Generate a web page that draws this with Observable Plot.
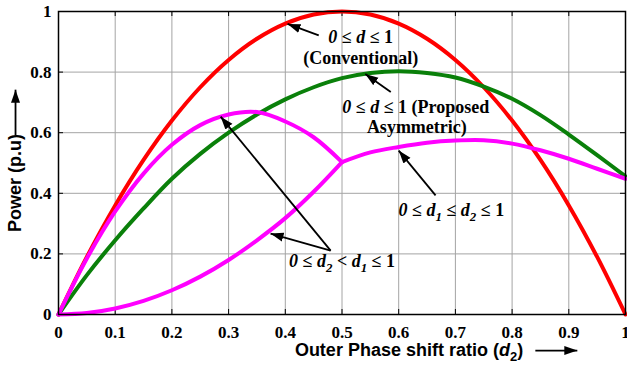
<!DOCTYPE html>
<html><head><meta charset="utf-8">
<script src="https://cdn.jsdelivr.net/npm/d3@7"></script>
<script src="https://cdn.jsdelivr.net/npm/@observablehq/plot@0.6"></script>
<style>body{margin:0;background:#fff}</style>
</head><body><div id="chart"></div>
<script>
// ---- data ----
const dFull = [0,0.05,0.1,0.15,0.2,0.25,0.3,0.35,0.4,0.45,0.5,0.55,0.6,0.65,0.7,0.75,0.8,0.85,0.9,0.95,1];
const pConventional = [0,0.19,0.36,0.51,0.64,0.75,0.84,0.91,0.96,0.99,1,0.99,0.96,0.91,0.84,0.75,0.64,0.51,0.36,0.19,0];
const pProposed = [0,0.13,0.245,0.35,0.448,0.53,0.60,0.66,0.71,0.75,0.78,0.797,0.803,0.797,0.782,0.752,0.712,0.658,0.594,0.526,0.456];
const dLeft = [0,0.05,0.1,0.15,0.2,0.25,0.3,0.35,0.4,0.45,0.5];
const pD2ltD1Upper = [0,0.185,0.34,0.465,0.56,0.625,0.66,0.668,0.637,0.585,0.503];
const pD2ltD1Lower = [0,0.005,0.02,0.045,0.08,0.125,0.18,0.245,0.318,0.405,0.503];
const dRight = [0.5,0.55,0.6,0.65,0.7,0.75,0.8,0.85,0.9,0.95,1];
const pD1leD2 = [0.503,0.535,0.553,0.567,0.574,0.575,0.564,0.542,0.514,0.481,0.448];

const xTicks = [0,0.1,0.2,0.3,0.4,0.5,0.6,0.7,0.8,0.9,1];
const xTickLabels = ["0","0.1","0.2","0.3","0.4","0.5","0.6","0.7","0.8","0.9","1"];
const yTicks = [0,0.2,0.4,0.6,0.8,1];
const yTickLabels = ["0","0.2","0.4","0.6","0.8","1"];

const xLabel = "Outer Phase shift ratio (d2)";
const yLabel = "Power (p.u)";

const noteText = ["0 ≤ d ≤ 1", "(Conventional)", "0 ≤ d ≤ 1 (Proposed", "Asymmetric)", "0 ≤ d1 ≤ d2 ≤ 1", "0 ≤ d2 < d1 ≤ 1"];
const noteX = [0.533, 0.533, 0.63, 0.632, 0.693, 0.5];
const noteY = [0.914, 0.845, 0.683, 0.617, 0.343, 0.175];
// pointer arrows (tail -> head), the last two are the axis-label arrows
const arrowX1 = [0.459, 0.586, 0.665, 0.48, 0.48, 0.841, -0.0758];
const arrowY1 = [0.921, 0.734, 0.393, 0.211, 0.211, -0.119, 0.591];
const arrowX2 = [0.404, 0.541, 0.600, 0.286, 0.374, 0.915, -0.0758];
const arrowY2 = [0.959, 0.794, 0.541, 0.653, 0.267, -0.119, 0.742];

// ---- tables ----
const toRows = (xs, ys, s) => xs.map((x, i) => ({x, y: ys[i], s}));
const red = toRows(dFull, pConventional, "conv");
const green = toRows(dFull, pProposed, "prop");
const magenta = [
  ...toRows(dLeft, pD2ltD1Upper, "upper"),
  ...toRows(dLeft, pD2ltD1Lower, "lower"),
  ...toRows(dRight, pD1leD2, "right")
];
const notes = noteText.map((t, i) => ({t, x: noteX[i], y: noteY[i]}));
const arrows = arrowX1.map((x1, i) => ({x1, y1: arrowY1[i], x2: arrowX2[i], y2: arrowY2[i]}));

const serif = "Liberation Serif, Times New Roman, serif";
const sans = "Liberation Sans, Arial, sans-serif";

const plot = Plot.plot({
  width: 627, height: 365,
  marginLeft: 58, marginRight: 2, marginTop: 11, marginBottom: 51,
  x: {domain: [0, 1]},
  y: {domain: [0, 1]},
  style: {fontFamily: serif, fontSize: "17px", fontWeight: "bold", background: "white", color: "black", overflow: "visible"},
  marks: [
    Plot.gridX(xTicks, {stroke: "#a4a4a4", strokeOpacity: 1, strokeWidth: 1}),
    Plot.gridY(yTicks, {stroke: "#a4a4a4", strokeOpacity: 1, strokeWidth: 1}),
    Plot.tickX(xTicks, {x: d => d, insetTop: 298, stroke: "black"}),
    Plot.tickX(xTicks, {x: d => d, insetBottom: 298, stroke: "black"}),
    Plot.tickY(yTicks, {y: d => d, insetLeft: 562, stroke: "black"}),
    Plot.tickY(yTicks, {y: d => d, insetRight: 562, stroke: "black"}),
    Plot.axisX({ticks: xTicks, tickSize: 0, tickPadding: 11, tickFormat: (d, i) => xTickLabels[i], label: null, fontSize: 17, fontFamily: serif, fontWeight: "bold"}),
    Plot.axisY({ticks: yTicks, tickSize: 0, tickPadding: 7, tickFormat: (d, i) => yTickLabels[i], label: null, fontSize: 17, fontFamily: serif, fontWeight: "bold"}),
    Plot.line(red, {x: "x", y: "y", z: "s", stroke: "#ff0000", strokeWidth: 4, curve: "catmull-rom"}),
    Plot.line(green, {x: "x", y: "y", z: "s", stroke: "#0a800a", strokeWidth: 4, curve: "catmull-rom"}),
    Plot.line(magenta, {x: "x", y: "y", z: "s", stroke: "#ff00ff", strokeWidth: 4, curve: "catmull-rom"}),
    Plot.frame({stroke: "black", strokeWidth: 1.5}),
    Plot.link(arrows, {x1: "x1", y1: "y1", x2: "x2", y2: "y2", stroke: "black", strokeWidth: 1.8, markerEnd: "arrow"}),
    Plot.text(notes, {x: "x", y: "y", text: "t", fontFamily: serif, fontSize: 18, fontWeight: "bold", fill: "black"}),
    Plot.text([xLabel], {text: d => d, frameAnchor: "bottom", textAnchor: "middle", lineAnchor: "middle", dx: 67, dy: 36, fontFamily: sans, fontSize: 18, fontWeight: "bold", fill: "black"}),
    Plot.text([yLabel], {text: d => d, frameAnchor: "left", textAnchor: "middle", lineAnchor: "middle", rotate: -90, dx: -43, dy: 20, fontFamily: sans, fontSize: 18, fontWeight: "bold", fill: "black"})
  ]
});
document.getElementById("chart").appendChild(plot);

// filled arrowheads
d3.select(plot).selectAll("marker").each(function() {
  const m = d3.select(this);
  m.attr("viewBox", "-13 -5 14 10").attr("markerWidth", 14).attr("markerHeight", 10)
   .attr("markerUnits", "userSpaceOnUse").attr("refX", 0).attr("refY", 0)
   .attr("fill", "black").attr("stroke", "none");
  m.selectAll("*").remove();
  m.append("path").attr("d", "M-13,-4.5L0,0L-13,4.5Z");
});

// rich text: italic 0 and d, subscripts
d3.select(plot).selectAll("text").each(function() {
  const s = this.textContent;
  if (!/≤|\(d2\)/.test(s)) return;
  const isSerif = /≤/.test(s);
  const fs = parseFloat(getComputedStyle(this).fontSize) || 18;
  const segs = [];
  for (let k = 0; k < s.length; k++) {
    const c = s[k];
    let st = "n";
    if (c === "0" && k === 0) st = "i";
    else if (c === "d" && (k === 0 || s[k-1] === " " || s[k-1] === "(")) st = "i";
    else if (/[0-9]/.test(c) && s[k-1] === "d") st = "sub";
    if (segs.length && segs[segs.length-1].st === st) segs[segs.length-1].t += c;
    else segs.push({t: c, st});
  }
  const el = d3.select(this);
  el.text(null);
  let shifted = 0;
  for (const g of segs) {
    const ts = el.append("tspan").text(g.t);
    if (g.st === "i") ts.attr("font-style", "italic");
    if (g.st === "sub") {
      if (isSerif) ts.attr("font-style", "italic");
      ts.attr("font-size", fs * 0.72).attr("dy", fs * 0.25);
      shifted = fs * 0.25;
    } else if (shifted) {
      ts.attr("dy", -shifted); shifted = 0;
    }
  }
});
</script>
</body></html>
